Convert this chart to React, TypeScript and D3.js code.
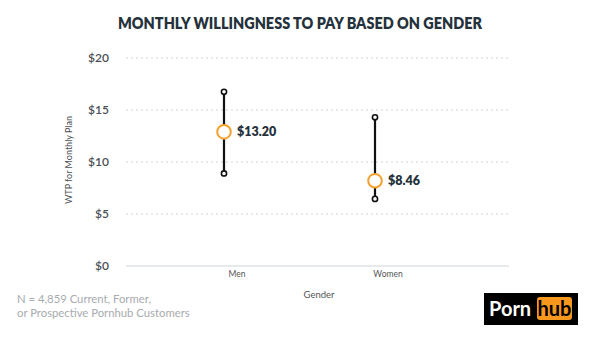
import React from "react";
import * as d3 from "d3";

const categories = ["Men", "Women"];
const meanValues = [12.9, 8.2];
const meanLabels = ["$13.20", "$8.46"];
const lowValues = [8.9, 6.45];
const highValues = [16.75, 14.3];
const yTicks = [0, 5, 10, 15, 20];

const W = 600;
const H = 337;
const FONT = "Lato, 'Open Sans', sans-serif";

export default function App() {
  const y = d3.scaleLinear().domain([0, 20]).range([266, 58]);
  const x = d3.scalePoint<string>().domain(categories).range([224, 375]);
  const left = 126;
  const right = 509;

  return (
    <svg width={W} height={H} style={{ position: "absolute", left: 0, top: 0, background: "#fff" }}>
      <text
        x={118}
        y={29}
        fontFamily={FONT}
        fontWeight={800}
        fontSize={16}
        fill="#25313b"
        textLength={364}
        lengthAdjust="spacingAndGlyphs"
      >
        MONTHLY WILLINGNESS TO PAY BASED ON GENDER
      </text>
      {yTicks.map((t) => (
        <g key={t}>
          {t > 0 ? (
            <line x1={left} x2={right} y1={y(t)} y2={y(t)} stroke="#cfd3d6" strokeWidth={1} strokeDasharray="2,3" />
          ) : (
            <line x1={left} x2={right} y1={y(t)} y2={y(t)} stroke="#dfe3e6" strokeWidth={1.3} />
          )}
          <text x={109} y={y(t) + 4} textAnchor="end" fontFamily={FONT} fontWeight={600} fontSize={12} fill="#4a4f55">
            {"$" + t}
          </text>
        </g>
      ))}
      <text
        transform={`translate(72,160) rotate(-90)`}
        textAnchor="middle"
        fontFamily={FONT}
        fontSize={9}
        fill="#4a4f55"
      >
        WTP for Monthly Plan
      </text>
      {categories.map((c, i) => {
        const cx = x(c)!;
        return (
          <g key={c}>
            <line x1={cx} x2={cx} y1={y(highValues[i])} y2={y(lowValues[i])} stroke="#111" strokeWidth={2.2} />
            <circle cx={cx} cy={y(highValues[i])} r={2.6} fill="#fff" stroke="#111" strokeWidth={1.6} />
            <circle cx={cx} cy={y(lowValues[i])} r={2.6} fill="#fff" stroke="#111" strokeWidth={1.6} />
            <circle cx={cx} cy={y(meanValues[i])} r={6.8} fill="#fff" stroke="#f3a12e" strokeWidth={2} />
            <text x={cx + 13} y={y(meanValues[i]) + 4.5} fontFamily={FONT} fontWeight={800} fontSize={12.5} fill="#25313b">
              {meanLabels[i]}
            </text>
            <text x={cx + 13} y={277} textAnchor="middle" fontFamily={FONT} fontSize={8.5} fill="#555">
              {c}
            </text>
          </g>
        );
      })}
      <text x={319} y={298} textAnchor="middle" fontFamily={FONT} fontSize={9.5} fill="#555">
        Gender
      </text>
      <text x={17} y={303} fontFamily={FONT} fontSize={11.3} fill="#a7abb0">
        N = 4,859 Current, Former,
      </text>
      <text x={17} y={317} fontFamily={FONT} fontSize={11.3} fill="#a7abb0">
        or Prospective Pornhub Customers
      </text>
      <rect x={484} y={293} width={94} height={32} fill="#000" />
      <text x={489} y={316} fontFamily={FONT} fontWeight={700} fontSize={20} fill="#fff">
        Porn
      </text>
      <rect x={537} y={297} width={35} height={23} rx={3} fill="#f7971d" />
      <text x={554.5} y={316} textAnchor="middle" fontFamily={FONT} fontWeight={700} fontSize={20} fill="#000">
        hub
      </text>
    </svg>
  );
}
